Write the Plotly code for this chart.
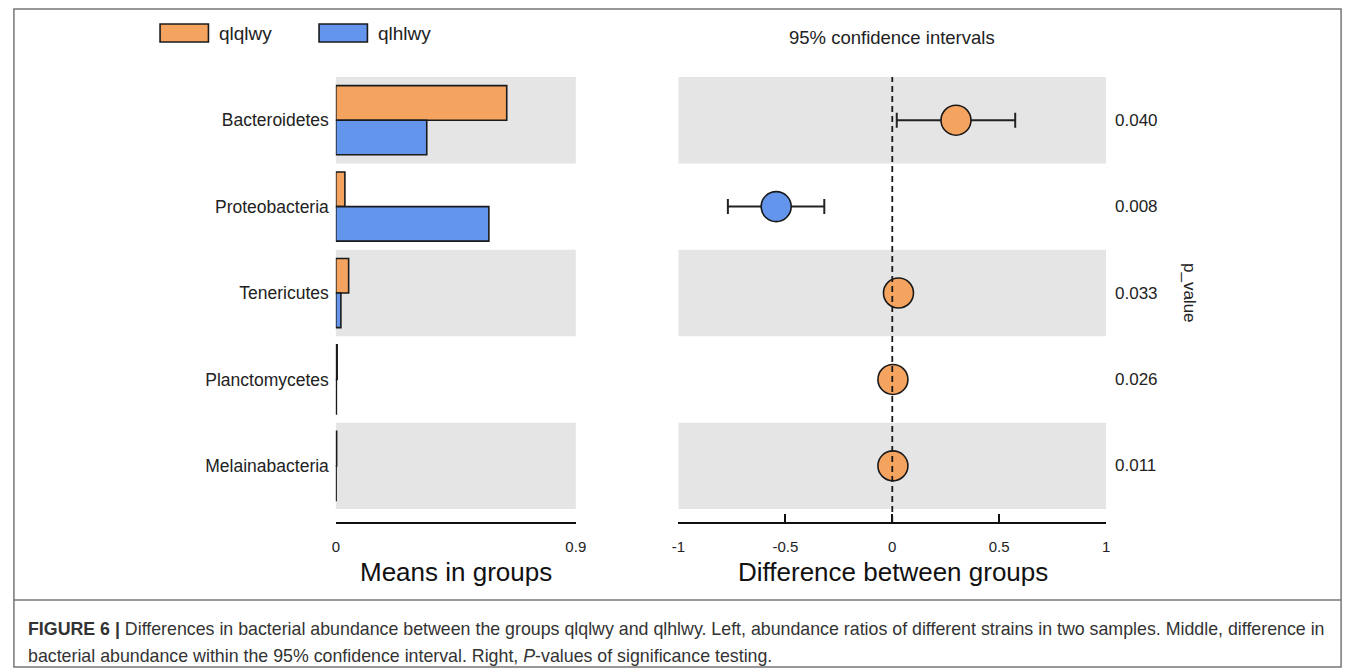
import plotly.graph_objects as go

W, H = 1358, 672

categories = ["Bacteroidetes", "Proteobacteria", "Tenericutes", "Planctomycetes", "Melainabacteria"]
mean_qlqlwy = [0.641, 0.034, 0.048, 0.005, 0.003]
mean_qlhlwy = [0.341, 0.574, 0.019, 0.002, 0.001]
diff = [0.298, -0.543, 0.029, 0.003, 0.003]
ci_low = [0.021, -0.769, 0.000, 0.000, 0.000]
ci_high = [0.575, -0.318, 0.058, 0.006, 0.006]
p_values = ["0.040", "0.008", "0.033", "0.026", "0.011"]
groups = ["qlqlwy", "qlhlwy"]
left_ticks = [0, 0.9]
left_ticktext = ["0", "0.9"]
right_ticks = [-1, -0.5, 0, 0.5, 1]
right_ticktext = ["-1", "-0.5", "0", "0.5", "1"]

ORANGE = "#F5A460"
BLUE = "#6495ED"
BAND = "#E5E5E5"
FONT = "Liberation Sans, Arial, sans-serif"


def px(x):
    return x / W


def py(y):
    return 1 - y / H


fig = go.Figure()

fig.add_trace(go.Bar(x=mean_qlqlwy, y=categories, orientation="h", name=groups[0],
                     marker=dict(color=ORANGE, line=dict(color="#1a1a1a", width=1.6)),
                     xaxis="x", yaxis="y", showlegend=False))
fig.add_trace(go.Bar(x=mean_qlhlwy, y=categories, orientation="h", name=groups[1],
                     marker=dict(color=BLUE, line=dict(color="#1a1a1a", width=1.6)),
                     xaxis="x", yaxis="y", showlegend=False))

pt_colors = [ORANGE if d > 0 else BLUE for d in diff]
fig.add_trace(go.Scatter(
    x=diff, y=categories, mode="markers", xaxis="x2", yaxis="y2", showlegend=False,
    marker=dict(size=30, color=pt_colors, line=dict(color="#1a1a1a", width=1.6)),
    error_x=dict(type="data", symmetric=False,
                 array=[h - d for h, d in zip(ci_high, diff)],
                 arrayminus=[d - l for d, l in zip(diff, ci_low)],
                 color="#222222", thickness=2, width=7.5),
))

shapes = []
for i, c in enumerate(categories):
    if i % 2 == 0:
        for xr, yr in (("x domain", "y"), ("x2 domain", "y2")):
            shapes.append(dict(type="rect", xref=xr, yref=yr, x0=0, x1=1,
                               y0=i - 0.5, y1=i + 0.5, fillcolor=BAND,
                               line=dict(width=0), layer="below"))
shapes.append(dict(type="line", xref="x2", yref="y2 domain", x0=0, x1=0, y0=0, y1=1,
                   line=dict(color="#1a1a1a", width=1.8, dash="6px,4px")))
for (x0, x1), col in (((155, 204), ORANGE), ((316, 365), BLUE)):
    shapes.append(dict(type="rect", xref="paper", yref="paper", x0=px(x0), x1=px(x1),
                       y0=py(42), y1=py(24), fillcolor=col,
                       line=dict(color="#1a1a1a", width=1.6)))
shapes.append(dict(type="rect", xref="paper", yref="paper", x0=px(7), x1=px(1351),
                   y0=py(667), y1=py(9), line=dict(color="#777777", width=1.5)))
shapes.append(dict(type="line", xref="paper", yref="paper", x0=px(7), x1=px(1351),
                   y0=py(600), y1=py(600), line=dict(color="#777777", width=1.5)))

ann = []
for g, x in zip(groups, (213, 374)):
    ann.append(dict(text=g, xref="paper", yref="paper", x=px(x), y=py(33),
                    xanchor="left", yanchor="middle", showarrow=False,
                    font=dict(size=19, color="#222", family=FONT)))
ann.append(dict(text="95% confidence intervals", xref="paper", yref="paper",
                x=px(896), y=py(37), xanchor="center", yanchor="middle", showarrow=False,
                font=dict(size=18.5, color="#222", family=FONT)))
for c, p in zip(categories, p_values):
    ann.append(dict(text=p, xref="paper", yref="y2", x=px(1120), y=c,
                    xanchor="left", yanchor="middle", showarrow=False,
                    font=dict(size=17, color="#222", family=FONT)))
ann.append(dict(text="p_value", xref="paper", yref="paper", x=px(1198), y=py(293),
                xanchor="center", yanchor="middle", showarrow=False, textangle=90,
                font=dict(size=17, color="#222", family=FONT)))
ann.append(dict(text="Means in groups", xref="paper", yref="paper", x=px(455), y=py(572),
                xanchor="center", yanchor="middle", showarrow=False,
                font=dict(size=26, color="#111", family=FONT)))
ann.append(dict(text="Difference between groups", xref="paper", yref="paper", x=px(897), y=py(572),
                xanchor="center", yanchor="middle", showarrow=False,
                font=dict(size=26, color="#111", family=FONT)))
ann.append(dict(text="<b>FIGURE 6 |</b> Differences in bacterial abundance between the groups qlqlwy and qlhlwy. "
                     "Left, abundance ratios of different strains in two samples. Middle, difference in",
                xref="paper", yref="paper", x=px(19), y=py(629), xanchor="left", yanchor="middle",
                showarrow=False, font=dict(size=17.8, color="#333", family=FONT)))
ann.append(dict(text="bacterial abundance within the 95% confidence interval. Right, <i>P</i>-values of significance testing.",
                xref="paper", yref="paper", x=px(19), y=py(656), xanchor="left", yanchor="middle",
                showarrow=False, font=dict(size=17.8, color="#333", family=FONT)))

ydom = [py(522), py(77)]
yrange = [len(categories) - 0.5 + 0.15, -0.5]

axis_common = dict(showgrid=False, zeroline=False, showline=True, linecolor="#111",
                   linewidth=2, ticks="inside", ticklen=8, tickwidth=2, tickcolor="#111",
                   tickfont=dict(size=15, color="#222", family=FONT), ticklabelstandoff=10,
                   fixedrange=True)

fig.update_layout(
    width=W, height=H, margin=dict(l=0, r=0, t=0, b=0),
    paper_bgcolor="white", plot_bgcolor="white",
    barmode="group", bargap=0.2, bargroupgap=0,
    xaxis=dict(domain=[px(333), px(576)], range=[0, 0.9], tickvals=left_ticks,
               ticktext=left_ticktext, anchor="y", **axis_common),
    yaxis=dict(domain=ydom, range=yrange, type="category", categoryorder="array",
               categoryarray=categories, showgrid=False, zeroline=False, showline=False,
               ticks="", tickfont=dict(size=17.5, color="#222", family=FONT),
               ticklabelstandoff=6, anchor="x", fixedrange=True),
    xaxis2=dict(domain=[px(680), px(1113)], range=[-1, 1], tickvals=right_ticks,
                ticktext=right_ticktext, anchor="y2", **axis_common),
    yaxis2=dict(domain=ydom, range=yrange, type="category", categoryorder="array",
                categoryarray=categories, showgrid=False, zeroline=False, showline=False,
                showticklabels=False, ticks="", anchor="x2", fixedrange=True),
    shapes=shapes, annotations=ann,
)

fig.write_html("out.html", config={"displayModeBar": False},
               post_script="document.body.style.margin='0';document.body.style.overflow='hidden';")
